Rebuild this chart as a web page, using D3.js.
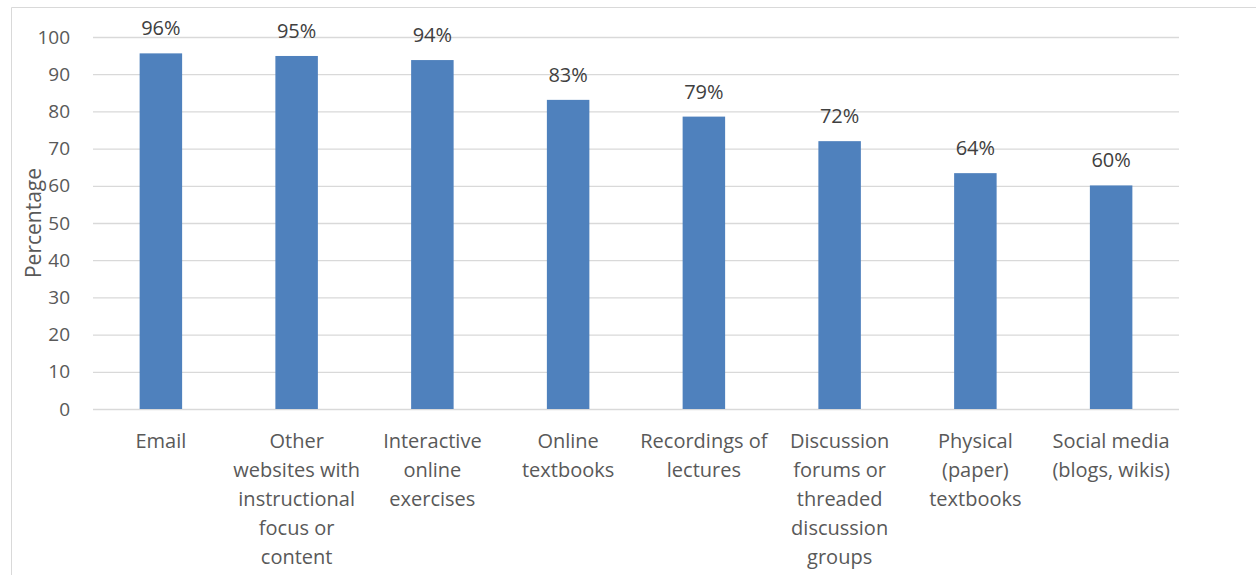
<!DOCTYPE html>
<html>
<head>
<meta charset="utf-8">
<script src="https://cdn.jsdelivr.net/npm/d3@7"></script>
<style>
	body { margin:0; background:#fff; }
	svg { display:block; font-family:"Open Sans", "Liberation Sans", sans-serif; }
</style>
</head>
<body>
<div id="chart"></div>
<script>
var	categories	= [
		["Email"],
		["Other", "websites with", "instructional", "focus or", "content"],
		["Interactive", "online", "exercises"],
		["Online", "textbooks"],
		["Recordings of", "lectures"],
		["Discussion", "forums or", "threaded", "discussion", "groups"],
		["Physical", "(paper)", "textbooks"],
		["Social media", "(blogs, wikis)"]
	],
	values	= [95.6, 94.9, 93.8, 83.1, 78.6, 72.0, 63.4, 60.1],
	labels	= ["96%", "95%", "94%", "83%", "79%", "72%", "64%", "60%"],
	yTicks	= [0, 10, 20, 30, 40, 50, 60, 70, 80, 90, 100];

var	W	= 1256, H = 575,
	margin	= {top: 37, left: 93, right: 77, bottom: 166},
	w	= W - margin.left - margin.right,
	h	= H - margin.top - margin.bottom;

var	svg	= d3.select("#chart").append("svg").attr("width", W).attr("height", H);

// outer frame (only top and left edges visible)
svg.append("path").attr("d", "M11.5," + H + "V7.5H" + W)
	.attr("fill", "none").attr("stroke", "#d9d9d9").attr("stroke-width", 1);

var	x	= d3.scaleBand().domain(d3.range(values.length)).range([0, w]),
	y	= d3.scaleLinear().domain([0, 100]).range([h, 0]),
	barW	= x.bandwidth() * 0.313;

var	g	= svg.append("g").attr("transform", "translate(" + margin.left + "," + margin.top + ")");

// grid + y axis
var yAxis = g.append("g").call(d3.axisLeft(y).tickValues(yTicks).tickSize(-w).tickPadding(23));
yAxis.select(".domain").remove();
yAxis.selectAll(".tick line").attr("stroke", "#d9d9d9").attr("stroke-width", 1.3);
yAxis.selectAll(".tick text").attr("fill", "#595959").style("font-size", "19px")
	.style("font-family", "'Open Sans', sans-serif");

// bars
g.selectAll("rect.bar").data(values).enter().append("rect").attr("class", "bar")
	.attr("x", function(d, i) { return x(i) + (x.bandwidth() - barW) / 2; })
	.attr("y", function(d) { return y(d); })
	.attr("width", barW)
	.attr("height", function(d) { return h - y(d); })
	.attr("fill", "#4f81bd");

// data labels
g.selectAll("text.lbl").data(values).enter().append("text").attr("class", "lbl")
	.attr("x", function(d, i) { return x(i) + x.bandwidth() / 2; })
	.attr("y", function(d) { return y(d) - 18; })
	.attr("text-anchor", "middle").attr("fill", "#404040").style("font-size", "20px")
	.text(function(d, i) { return labels[i]; });

// category labels
var cat = g.selectAll("text.cat").data(categories).enter().append("text").attr("class", "cat")
	.attr("text-anchor", "middle").attr("fill", "#595959").style("font-size", "20px")
	.attr("transform", function(d, i) { return "translate(" + (x(i) + x.bandwidth() / 2) + "," + (h + 39) + ")"; });
cat.selectAll("tspan").data(function(d) { return d; }).enter().append("tspan")
	.attr("x", 0).attr("y", function(d, i) { return i * 29; })
	.text(function(d) { return d; });

// y axis title
svg.append("text").attr("transform", "translate(41,223) rotate(-90)")
	.attr("text-anchor", "middle").attr("fill", "#595959").style("font-size", "21px")
	.text("Percentage");
</script>
</body>
</html>
